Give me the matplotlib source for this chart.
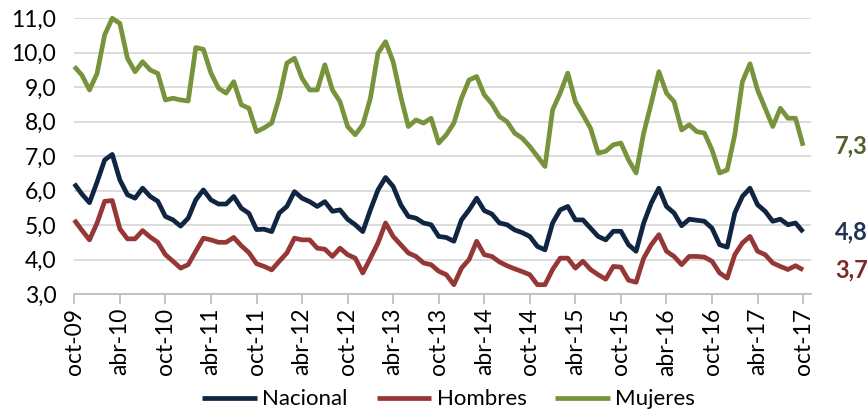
import matplotlib.pyplot as plt

nacional = [6.2, 5.9, 5.65, 6.25, 6.89, 7.05, 6.31, 5.88, 5.78, 6.07, 5.83, 5.69,
            5.25, 5.15, 4.97, 5.2, 5.73, 6.02, 5.73, 5.61, 5.61, 5.83, 5.49, 5.34,
            4.87, 4.88, 4.81, 5.35, 5.54, 5.97, 5.78, 5.68, 5.54, 5.68, 5.40, 5.44,
            5.17, 5.01, 4.81, 5.44, 6.02, 6.38, 6.12, 5.59, 5.25, 5.20, 5.06, 5.01,
            4.67, 4.64, 4.53, 5.15, 5.44, 5.78, 5.42, 5.32, 5.06, 5.01, 4.86, 4.78,
            4.67, 4.38, 4.28, 5.06, 5.44, 5.54, 5.15, 5.15, 4.91, 4.67, 4.57, 4.82,
            4.82, 4.43, 4.24, 5.06, 5.64, 6.07, 5.54, 5.35, 4.98, 5.17, 5.14, 5.11,
            4.91, 4.43, 4.36, 5.35, 5.83, 6.07, 5.59, 5.40, 5.11, 5.17, 5.01, 5.06,
            4.8]
hombres = [5.15, 4.85, 4.57, 5.06, 5.69, 5.71, 4.89, 4.6, 4.6, 4.84, 4.65, 4.5,
           4.14, 3.95, 3.75, 3.85, 4.24, 4.62, 4.57, 4.5, 4.5, 4.64, 4.4, 4.2,
           3.88, 3.8, 3.7, 3.95, 4.19, 4.62, 4.57, 4.57, 4.33, 4.3, 4.09, 4.33,
           4.14, 4.04, 3.61, 4.04, 4.48, 5.06, 4.67, 4.43, 4.19, 4.09, 3.9, 3.85,
           3.66, 3.56, 3.27, 3.75, 4.0, 4.53, 4.14, 4.09, 3.93, 3.82, 3.73, 3.65,
           3.56, 3.27, 3.27, 3.71, 4.04, 4.04, 3.75, 3.95, 3.71, 3.56, 3.43, 3.80,
           3.78, 3.40, 3.34, 4.04, 4.43, 4.72, 4.24, 4.09, 3.85, 4.09, 4.09, 4.07,
           3.95, 3.61, 3.46, 4.14, 4.48, 4.67, 4.24, 4.14, 3.90, 3.80, 3.71, 3.82,
           3.7]
mujeres = [9.60, 9.35, 8.92, 9.40, 10.52, 11.0, 10.85, 9.84, 9.45, 9.74, 9.50, 9.40,
           8.63, 8.68, 8.63, 8.6, 10.15, 10.1, 9.41, 8.97, 8.83, 9.16, 8.49, 8.39,
           7.71, 7.82, 7.96, 8.7, 9.7, 9.84, 9.26, 8.92, 8.92, 9.65, 8.92, 8.58,
           7.86, 7.62, 7.91, 8.68, 9.99, 10.32, 9.74, 8.73, 7.86, 8.05, 7.96, 8.10,
           7.38, 7.62, 7.96, 8.68, 9.21, 9.31, 8.78, 8.52, 8.15, 8.0, 7.67, 7.52,
           7.28, 6.99, 6.70, 8.34, 8.83, 9.41, 8.58, 8.20, 7.81, 7.09, 7.14, 7.33,
           7.38, 6.89, 6.51, 7.67, 8.54, 9.45, 8.83, 8.58, 7.76, 7.91, 7.71, 7.67,
           7.18, 6.51, 6.60, 7.62, 9.16, 9.68, 8.92, 8.39, 7.86, 8.39, 8.10, 8.10,
           7.3]
tick_labels = ['oct-09', 'abr-10', 'oct-10', 'abr-11', 'oct-11', 'abr-12', 'oct-12',
               'abr-13', 'oct-13', 'abr-14', 'oct-14', 'abr-15', 'oct-15', 'abr-16',
               'oct-16', 'abr-17', 'oct-17']
series_names = ['Nacional', 'Hombres', 'Mujeres']
colors = ['#0f2541', '#953735', '#77933c']
label_colors = ['#1f3352', '#7b2a28', '#4f6228']

plt.rcParams['font.family'] = ['Lato', 'DejaVu Sans']

fig = plt.figure(figsize=(8.68, 4.11), dpi=100)
ax = fig.add_axes([0.0856, 0.2847, 0.934 - 0.0856, 0.9555 - 0.2847])

x = list(range(len(nacional)))
for data, name, c in zip([nacional, hombres, mujeres], series_names, colors):
    ax.plot(x, data, color=c, lw=3.4, label=name, clip_on=False,
            solid_joinstyle='round', solid_capstyle='butt')

ax.set_xlim(0, 97)
ax.set_ylim(3, 11)
ax.set_yticks(range(3, 12))
ax.set_yticklabels([('%.1f' % v).replace('.', ',') for v in range(3, 12)], fontsize=16.5)
ax.set_xticks(range(0, 97, 6))
ax.set_xticklabels(tick_labels, rotation=90, fontsize=16.5)
ax.grid(axis='y', color='#d9d9d9', lw=1.3)
ax.set_axisbelow(True)
for s in ['left', 'right', 'top']:
    ax.spines[s].set_visible(False)
ax.spines['bottom'].set_color('#bfbfbf')
ax.spines['bottom'].set_linewidth(1.3)
ax.tick_params(axis='y', length=0, pad=13)
ax.tick_params(axis='x', length=7, color='#bfbfbf', width=1.3, pad=3)

# etiquetas al final de cada serie
for data, c in zip([mujeres, nacional, hombres], [label_colors[2], label_colors[0], label_colors[1]]):
    ax.text(102.4, data[-1], ('%.1f' % data[-1]).replace('.', ','), color=c,
            fontsize=17, fontweight='bold', ha='center', va='center', clip_on=False)

fig.legend(loc='lower center', bbox_to_anchor=(0.517, -0.045), ncol=3, frameon=False,
           fontsize=16, handlelength=2.45, columnspacing=1.3, handletextpad=0.25)

plt.savefig('out.png', dpi=100)
